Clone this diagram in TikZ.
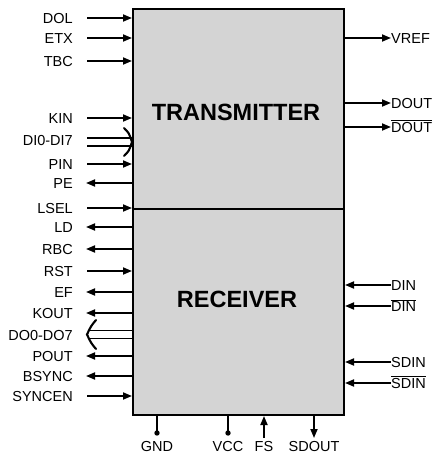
\documentclass[tikz,border=0pt]{standalone}
\usepackage{fontspec}
\setmainfont{Liberation Sans}
\usetikzlibrary{arrows.meta}
\begin{document}
\begin{tikzpicture}[x=1pt,y=-1pt,
  lbl/.style={font=\fontsize{14.5}{14.5}\selectfont, inner sep=0pt, text height=10.4pt, text depth=0pt},
  pinin/.style={line width=1.7pt, -{Triangle[length=9pt,width=7pt]}},
  pinout/.style={line width=1.7pt, {Triangle[length=9pt,width=7pt]}-},
  busln/.style={line width=1.7pt},
  chev/.style={line width=2.1pt, line cap=round},
  pwr/.style={line width=1.7pt},
  blk/.style={draw, line width=2pt, fill=black!17, inner sep=0pt},
  title/.style={font=\fontsize{23.5}{24}\bfseries\selectfont, inner sep=0pt}]
\useasboundingbox (0,0) rectangle (438,454);
% blocks
\node[blk, minimum width=211pt, minimum height=200pt, anchor=north west] (tx) at (132,8) {};
\node[blk, minimum width=211pt, minimum height=206pt, anchor=north west] (rx) at (132,208) {};
\node[title] (txt) at (236,112) {TRANSMITTER};
\node[title] (rxt) at (237,299) {RECEIVER};
% left inputs
\foreach \n/\t/\y in {dol/DOL/18, etx/ETX/38, tbc/TBC/61, kin/KIN/118, pin/PIN/164, lsel/LSEL/208, rst/RST/271, syncen/SYNCEN/396}{
  \node[lbl, anchor=east] (\n) at (73,\y) {\t};
  \coordinate (\n s) at (87,\y);
  \draw[pinin] (\n s) -- (\n s -| tx.west);
}
% left outputs
\foreach \n/\t/\y in {pe/PE/183, ld/LD/227, rbc/RBC/249, ef/EF/292, kout/KOUT/313, pout/POUT/356, bsync/BSYNC/376}{
  \node[lbl, anchor=east] (\n) at (73,\y) {\t};
  \coordinate (\n s) at (86,\y);
  \draw[pinout] (\n s) -- (\n s -| tx.west);
}
% DI bus
\node[lbl, anchor=east] (dibus) at (73,140) {DI0-DI7};
\coordinate (dia) at (87,138);
\coordinate (dib) at (87,146);
\coordinate (dit) at (132,142);
\draw[busln] (dia) -- (dia -| tx.west);
\draw[busln] (dib) -- (dib -| tx.west);
\draw[chev] (124,128) .. controls (129,133) .. (dit) .. controls (129,151) .. (124,156);
% DO bus
\node[lbl, anchor=east] (dobus) at (73,335) {DO0-DO7};
\coordinate (doa) at (88,330.5);
\coordinate (dob) at (88,338.5);
\coordinate (dot) at (87,334.5);
\draw[busln] (doa) -- (doa -| rx.west);
\draw[busln] (dob) -- (dob -| rx.west);
\draw[chev] (96,320) .. controls (91,326) .. (dot) .. controls (91,343) .. (96,349);
% right outputs
\foreach \n/\t/\y in {vref/VREF/38, dout/DOUT/103, doutb/$\overline{\hbox{DOUT}}$/127}{
  \node[lbl, anchor=west] (\n) at (391,\y) {\t};
  \draw[pinin] (\n.west -| tx.east) -- (\n.west);
}
% right inputs
\foreach \n/\t/\y in {din/DIN/285, dinb/$\overline{\hbox{DIN}}$/306, sdin/SDIN/362, sdinb/$\overline{\hbox{SDIN}}$/383}{
  \node[lbl, anchor=west] (\n) at (391,\y) {\t};
  \draw[pinin] (\n.west) -- (\n.west -| rx.east);
}
% bottom pins
\node[lbl] (gnd) at (157,446) {GND};
\node[lbl] (vcc) at (228,446) {VCC};
\node[lbl] (fs) at (264,446) {FS};
\node[lbl] (sdout) at (314,446) {SDOUT};
\coordinate (gnde) at (157,433);
\coordinate (vcce) at (228,433);
\coordinate (fse) at (264,438);
\coordinate (sdoute) at (314,438);
\draw[pwr] (gnde -| gnd) -- (gnde |- rx.south);
\fill (gnde) circle (2.7pt);
\draw[pwr] (vcce |- rx.south) -- (vcce);
\fill (vcce) circle (2.7pt);
\draw[pinin] (fse) -- (fse |- rx.south);
\draw[pinin] (sdoute |- rx.south) -- (sdoute);
\end{tikzpicture}
\end{document}
